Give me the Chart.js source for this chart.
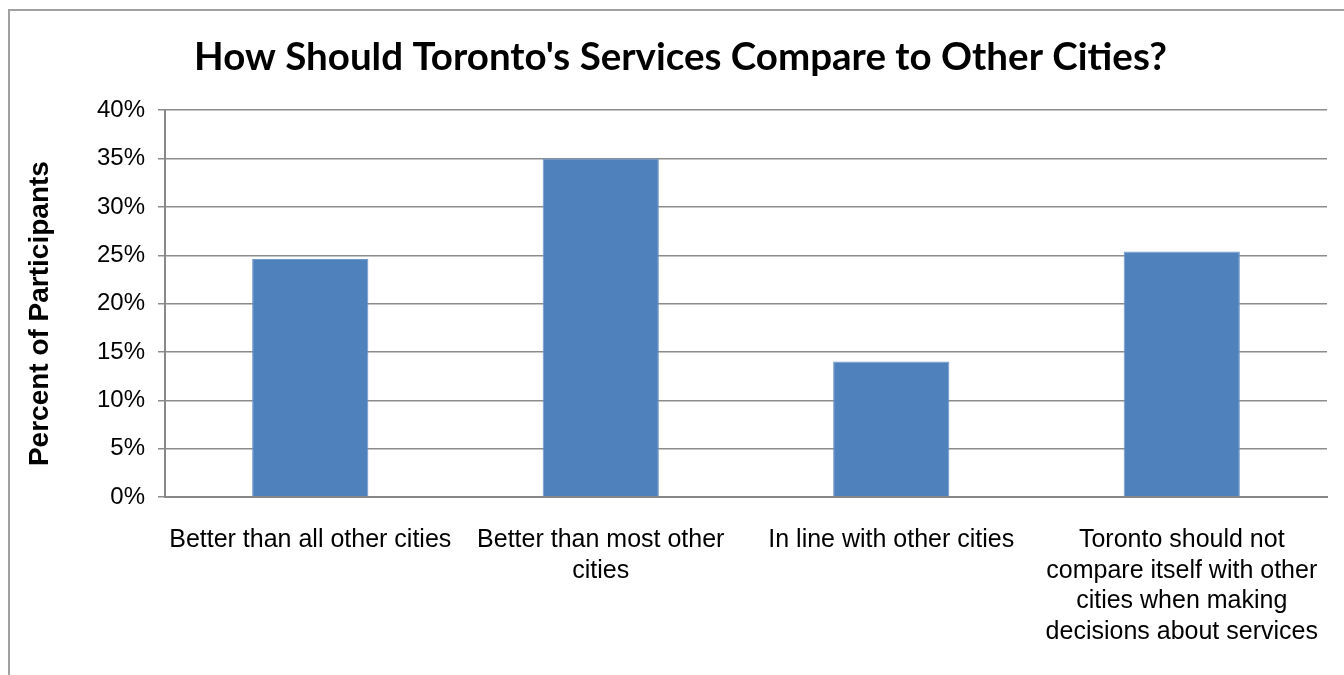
<!DOCTYPE html>
<html>
<head>
<meta charset="utf-8">
<script src="https://cdn.jsdelivr.net/npm/chart.js@4.4.1/dist/chart.umd.min.js"></script>
<style>
  html, body { margin: 0; padding: 0; background: #fff; }
  #wrap { position: relative; width: 1344px; height: 675px; overflow: hidden; }
  #frame {
    position: absolute; left: 8px; top: 9px; width: 1400px; height: 700px;
    border: 2px solid #a0a0a0; pointer-events: none;
  }
</style>
</head>
<body>
<div id="wrap">
  <canvas id="chart" width="1344" height="675"></canvas>
  <div id="frame"></div>
</div>
<script>
// Chart data
const categories = [
  ['Better than all other cities'],
  ['Better than most other', 'cities'],
  ['In line with other cities'],
  ['Toronto should not', 'compare itself with other', 'cities when making', 'decisions about services']
];
const percentValues = [24.6, 35.0, 14.0, 25.4];
const yTicks = [0, 5, 10, 15, 20, 25, 30, 35, 40];
const yAxisTitle = 'Percent of Participants';

// y axis title drawn a little below the plot centre, like the original
const yTitlePlugin = {
  id: 'yTitle',
  afterDraw(chart) {
    const c = chart.ctx;
    const area = chart.chartArea;
    c.save();
    c.translate(40, (area.top + area.bottom) / 2 + 10);
    c.rotate(-Math.PI / 2);
    c.font = 'bold 28px "Liberation Sans"';
    c.fillStyle = '#000';
    c.textAlign = 'center';
    c.textBaseline = 'middle';
    c.fillText(yAxisTitle, 0, 0);
    c.restore();
  }
};

const ctx = document.getElementById('chart').getContext('2d');
new Chart(ctx, {
  type: 'bar',
  data: {
    labels: categories,
    datasets: [{
      label: yAxisTitle,
      data: percentValues,
      backgroundColor: '#4f81bd',
      borderColor: '#6f97c8',
      borderWidth: 1,
      categoryPercentage: 1.0,
      barPercentage: 0.4
    }]
  },
  plugins: [yTitlePlugin],
  options: {
    responsive: false,
    animation: false,
    layout: { padding: { left: 34, right: 17, top: 0, bottom: 0 } },
    plugins: {
      legend: { display: false },
      tooltip: { enabled: false },
      title: {
        display: true,
        text: "How Should Toronto's Services Compare to Other Cities?",
        color: '#000',
        font: { family: 'Lato', size: 38.5, weight: 'bold' },
        padding: { top: 34, bottom: 30 }
      }
    },
    scales: {
      x: {
        afterFit: scale => { scale.paddingLeft = 0; scale.paddingRight = 0; },
        grid: { display: false, drawTicks: false },
        border: { color: '#888', width: 2 },
        ticks: {
          color: '#000',
          maxRotation: 0,
          autoSkip: false,
          padding: 28,
          font: { family: 'Liberation Sans', size: 25, lineHeight: 1.22 }
        }
      },
      y: {
        min: 0,
        max: 40,
        afterBuildTicks: scale => { scale.ticks = yTicks.map(v => ({ value: v })); },
        afterFit: scale => { scale.width = 131; },
        grid: { color: '#8c8c8c', lineWidth: 1.5, tickLength: 7, tickColor: '#8c8c8c' },
        border: { color: '#888', width: 2 },
        ticks: {
          color: '#000',
          padding: 13,
          font: { family: 'Liberation Sans', size: 24 },
          callback: v => v + '%'
        }
      }
    }
  }
});
</script>
</body>
</html>
